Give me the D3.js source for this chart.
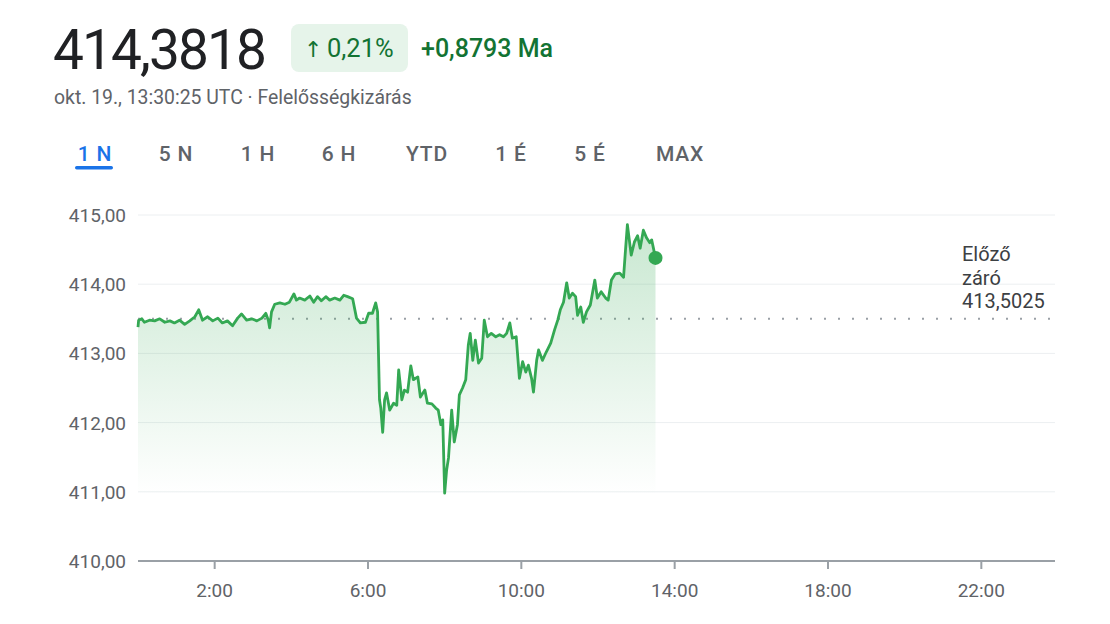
<!DOCTYPE html>
<html><head><meta charset="utf-8">
<script src="https://cdn.jsdelivr.net/npm/d3@7"></script>
<style>
html,body{margin:0;padding:0;background:#fff;}
svg{display:block;font-family:Roboto,"Noto Sans",sans-serif;}
</style></head><body>
<svg id="c" width="1110" height="624"></svg>
<script>
// ---- data ----
const times = ["0:00","0:01","0:06","0:10","0:18","0:26","0:34","0:42","0:50","0:57","1:05","1:13","1:21","1:29","1:35","1:41","1:49","1:57","2:05","2:12","2:20","2:28","2:36","2:42","2:50","2:58","3:06","3:14","3:20","3:24","3:26","3:29","3:34","3:42","3:50","3:57","4:04","4:08","4:13","4:21","4:29","4:35","4:41","4:47","4:54","5:00","5:08","5:16","5:22","5:28","5:36","5:42","5:48","5:56","6:01","6:07","6:12","6:15","6:18","6:20","6:23","6:26","6:29","6:34","6:40","6:45","6:48","6:53","6:57","7:02","7:07","7:11","7:18","7:22","7:29","7:33","7:40","7:46","7:50","7:54","7:57","8:00","8:03","8:06","8:11","8:15","8:20","8:23","8:28","8:33","8:37","8:40","8:44","8:48","8:53","8:58","9:02","9:07","9:13","9:20","9:26","9:32","9:37","9:42","9:46","9:52","9:57","10:02","10:07","10:11","10:16","10:19","10:24","10:27","10:33","10:39","10:46","10:52","10:57","11:01","11:06","11:11","11:15","11:20","11:25","11:28","11:33","11:37","11:42","11:48","11:55","11:59","12:05","12:12","12:16","12:21","12:27","12:34","12:40","12:43","12:46","12:49","12:52","12:57","13:02","13:06","13:11","13:16","13:21","13:24","13:30"];
const prices = [413.38,413.48,413.50,413.45,413.48,413.47,413.50,413.45,413.47,413.44,413.48,413.42,413.47,413.53,413.63,413.48,413.53,413.47,413.51,413.44,413.47,413.40,413.51,413.57,413.48,413.50,413.47,413.51,413.58,413.48,413.37,413.60,413.71,413.73,413.71,413.74,413.86,413.77,413.80,413.77,413.83,413.74,413.82,413.76,413.82,413.77,413.80,413.77,413.84,413.82,413.79,413.51,413.44,413.45,413.58,413.58,413.73,413.60,412.33,412.21,411.86,412.33,412.43,412.18,412.28,412.25,412.76,412.33,412.47,412.44,412.82,412.62,412.66,412.37,412.47,412.28,412.27,412.21,412.18,411.97,412.04,410.98,411.31,411.49,412.18,411.72,411.97,412.40,412.50,412.62,413.12,413.29,412.90,413.19,412.86,412.93,413.48,413.24,413.29,413.24,413.27,413.24,413.29,413.44,413.22,413.24,412.64,412.88,412.73,412.83,412.64,412.44,412.90,413.05,412.90,413.02,413.15,413.34,413.48,413.63,413.74,414.02,413.80,413.87,413.82,413.55,413.67,413.45,413.60,413.70,414.06,413.80,413.89,413.80,413.77,414.06,414.15,414.16,414.10,414.49,414.86,414.64,414.42,414.61,414.70,414.52,414.78,414.67,414.60,414.64,414.38];
const yTicks = [410, 411, 412, 413, 414, 415];
const xTickLabels = ["2:00","6:00","10:00","14:00","18:00","22:00"];
const prevClose = 413.5025;
const lastPrice = "414,3818";
const changePct = "0,21%";
const changeAbs = "+0,8793 Ma";
const subtitle = "okt. 19., 13:30:25 UTC · Felelősségkizárás";
const tabs = ["1 N","5 N","1 H","6 H","YTD","1 É","5 É","MAX"];
const prevLabel = ["Előző","záró","413,5025"];

// ---- helpers ----
const toMin = s => { const [h,m] = s.split(":").map(Number); return h*60+m; };
const data = times.map((t,i)=>({t:toMin(t), v:prices[i]}));
const fmt = v => d3.format(".2f")(v).replace(".", ",");

const svg = d3.select("#c");
const green = "#34a853", dkGreen = "#137333";

// ---- header ----
svg.append("text").attr("x",53).attr("y",69).attr("font-size",55).attr("letter-spacing",-1.9).attr("fill","#202124").text(lastPrice);
svg.append("rect").attr("x",291).attr("y",24).attr("width",117).attr("height",48).attr("rx",8).attr("fill","#e6f4ea");
svg.append("text").attr("x",304).attr("y",57).attr("font-size",22).attr("font-family","'DejaVu Sans'").attr("fill",dkGreen).text("↑");
svg.append("text").attr("x",327).attr("y",57).attr("font-size",25.5).attr("fill",dkGreen).text(changePct);
svg.append("text").attr("x",421).attr("y",57).attr("font-size",25).attr("font-weight",500).attr("fill",dkGreen).text(changeAbs);
svg.append("text").attr("x",54).attr("y",104).attr("font-size",19.4).attr("fill","#5f6368").text(subtitle);

const tabX = [95,176,258,339,427,511,590,680];
tabs.forEach((t,i)=>{
  svg.append("text").attr("x",tabX[i]).attr("y",161).attr("text-anchor","middle")
    .attr("font-size",21).attr("font-weight",500).attr("letter-spacing",0.8)
    .attr("fill", i===0 ? "#1a73e8" : "#5f6368").text(t);
});
svg.append("rect").attr("x",75).attr("y",166).attr("width",38).attr("height",3.5).attr("rx",1.7).attr("fill","#1a73e8");

// ---- scales ----
const x = d3.scaleLinear().domain([0, 1440]).range([138, 1058]);
const y = d3.scaleLinear().domain([410, 415]).range([561, 215]);
const xEnd = 1055;

// gridlines
svg.append("g").selectAll("line").data(yTicks.slice(1)).join("line")
  .attr("x1",138).attr("x2",xEnd).attr("y1",d=>y(d)).attr("y2",d=>y(d))
  .attr("stroke","#eceff1").attr("stroke-width",1);

// y labels
svg.append("g").selectAll("text").data(yTicks).join("text")
  .attr("x",126).attr("y",d=>y(d)+7).attr("text-anchor","end")
  .attr("font-size",19).attr("fill","#5f6368").text(fmt);

// area gradient
const defs = svg.append("defs");
const grad = defs.append("linearGradient").attr("id","ag").attr("gradientUnits","userSpaceOnUse")
  .attr("x1",0).attr("x2",0).attr("y1",y(415)).attr("y2",495);
grad.append("stop").attr("offset","0").attr("stop-color",green).attr("stop-opacity",0.28);
grad.append("stop").attr("offset","1").attr("stop-color",green).attr("stop-opacity",0.0);

// previous close dotted line
svg.append("line").attr("x1",138).attr("x2",xEnd).attr("y1",y(prevClose)).attr("y2",y(prevClose))
  .attr("stroke","#9aa0a6").attr("stroke-width",2).attr("stroke-dasharray","2,12");

const area = d3.area().x(d=>x(d.t)).y0(y(410)).y1(d=>y(d.v));
svg.append("path").datum(data).attr("d",area).attr("fill","url(#ag)");

const line = d3.line().x(d=>x(d.t)).y(d=>y(d.v));
svg.append("path").datum(data).attr("d",line).attr("fill","none")
  .attr("stroke",green).attr("stroke-width",2.8).attr("stroke-linejoin","round");

const last = data[data.length-1];
svg.append("circle").attr("cx",x(last.t)).attr("cy",y(last.v)).attr("r",7).attr("fill",green);

// x axis
svg.append("line").attr("x1",138).attr("x2",xEnd).attr("y1",y(410)).attr("y2",y(410))
  .attr("stroke","#9aa0a6").attr("stroke-width",2);
const xTicks = xTickLabels.map(toMin);
svg.append("g").selectAll("line").data(xTicks).join("line")
  .attr("x1",d=>x(d)).attr("x2",d=>x(d)).attr("y1",y(410)).attr("y2",y(410)+8)
  .attr("stroke","#9aa0a6").attr("stroke-width",2);
svg.append("g").selectAll("text").data(xTickLabels).join("text")
  .attr("x",d=>x(toMin(d))).attr("y",597).attr("text-anchor","middle")
  .attr("font-size",19).attr("fill","#5f6368").text(d=>d);

// previous close label
prevLabel.forEach((s,i)=>{
  svg.append("text").attr("x",962).attr("y",261+i*23.5).attr("font-size",20)
    .attr("fill","#3c4043").text(s);
});
</script></body></html>
